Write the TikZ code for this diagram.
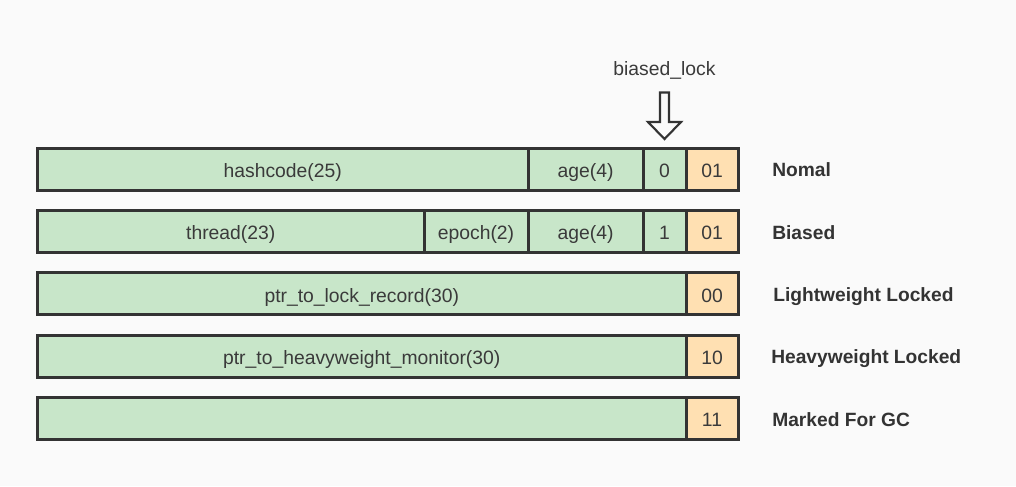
\documentclass[tikz,border=0pt]{standalone}
\usepackage{fontspec}
\setmainfont{Liberation Sans}
\usetikzlibrary{calc}
\definecolor{bg}{HTML}{FAFAFA}
\definecolor{grn}{HTML}{C8E6C9}
\definecolor{org}{HTML}{FFE0B2}
\definecolor{ln}{HTML}{333333}
\definecolor{tx}{HTML}{3A3A3A}
\begin{document}
\begin{tikzpicture}[x=0.75pt,y=-0.75pt,
 cell/.style={draw=ln, line width=2.25pt, fill=grn, minimum height=31.5pt, inner sep=0pt, outer sep=0pt,
   text height=12.4pt, text depth=0pt, anchor=west, text=tx, font=\fontsize{14.5}{16}\selectfont},
 bits/.style={cell, fill=org},
 lbl/.style={anchor=base west, text=ln, inner sep=0pt, font=\bfseries\fontsize{14.4}{16}\selectfont},
 note/.style={anchor=base, text=tx, inner sep=0pt, font=\fontsize{14.5}{16}\selectfont},
 hollow/.style={draw=ln, line width=1.6pt, fill=bg, line join=miter}]

\fill[bg] (0,0) rectangle (1016,486);
\useasboundingbox (0,0) rectangle (1016,486);

% Row 1: Nomal
\node[cell, minimum width=367.875pt] (hash) at (37.5,169) {hashcode(25)};
\node[cell, minimum width=86.25pt] (ageA) at (hash.east) {age(4)};
\node[cell, minimum width=32.25pt] (bA) at (ageA.east) {0};
\node[bits, minimum width=39pt] (lA) at (bA.east) {01};
\node[lbl] (tA) at (772,176.7) {Nomal};

% Row 2: Biased
\node[cell, minimum width=289.875pt] (thread) at (37.5,231.4) {thread(23)};
\node[cell, minimum width=78pt] (epoch) at (thread.east) {epoch(2)};
\node[cell, minimum width=86.25pt] (ageB) at (epoch.east) {age(4)};
\node[cell, minimum width=32.25pt] (bB) at (ageB.east) {1};
\node[bits, minimum width=39pt] (lB) at (bB.east) {01};
\node[lbl] (tB) at (772,239.1) {Biased};

% Row 3: Lightweight
\node[cell, minimum width=486.375pt] (ptrC) at (37.5,293.8) {ptr\_to\_lock\_record(30)};
\node[bits, minimum width=39pt] (lC) at (ptrC.east) {00};
\node[lbl] (tC) at (773,301.5) {Lightweight Locked};

% Row 4: Heavyweight
\node[cell, minimum width=486.375pt] (ptrD) at (37.5,356.2) {ptr\_to\_heavyweight\_monitor(30)};
\node[bits, minimum width=39pt] (lD) at (ptrD.east) {10};
\node[lbl] (tD) at (771,363.9) {Heavyweight Locked};

% Row 5: GC
\node[cell, minimum width=486.375pt] (ptrE) at (37.5,418.6) {};
\node[bits, minimum width=39pt] (lE) at (ptrE.east) {11};
\node[lbl] (tE) at (772,426.3) {Marked For GC};

% biased_lock pointer
\node[note] (bl) at (664.5,75.5) {biased\_lock};
\draw[hollow] ($(bA.north)+(0,-9)$) -- ++(-16.5,-17) -- ++(12,0) -- ++(0,-29.5)
  -- ++(9,0) -- ++(0,29.5) -- ++(12,0) -- cycle;
\end{tikzpicture}
\end{document}
